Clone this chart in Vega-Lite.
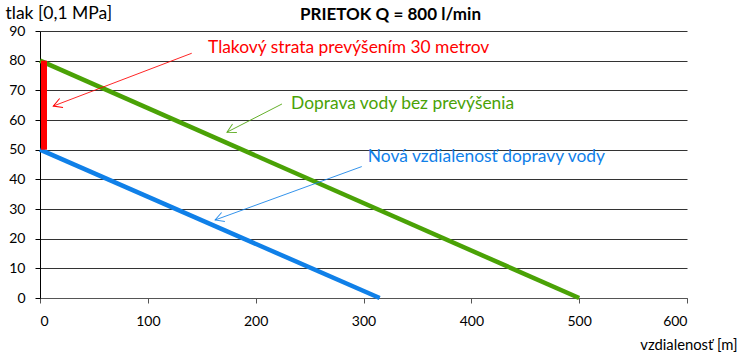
{
  "$schema": "https://vega.github.io/schema/vega-lite/v6.json",
  "width": 647,
  "height": 267,
  "autosize": {"type": "none"},
  "padding": {"left": 40, "top": 31, "right": 55, "bottom": 57},
  "background": "white",
  "config": {
    "view": {"stroke": null},
    "font": "Lato",
    "axis": {"labelFont": "Lato", "titleFont": "Lato", "labelColor": "#000", "titleColor": "#000"}
  },
  "title": {
    "text": "PRIETOK Q = 800 l/min",
    "font": "Lato",
    "fontSize": 17,
    "fontWeight": "bold",
    "color": "#000",
    "anchor": "middle",
    "dx": 27,
    "offset": 0,
    "dy": 20
  },
  "datasets": {
    "lines": [
      {"k": "g", "x": 0, "y": 80},
      {"k": "g", "x": 500, "y": 0},
      {"k": "b", "x": 0, "y": 50},
      {"k": "b", "x": 315, "y": 0}
    ],
    "drop": [{"k": "r", "x": 3.7, "y": 50, "y2": 80}],
    "arrows": [
      {"k": "r", "x": 140.7, "y": 82.5, "x2": 12.3, "y2": 64.7},
      {"k": "g", "x": 224.4, "y": 65.4, "x2": 173.4, "y2": 55.9},
      {"k": "b", "x": 298.4, "y": 44.3, "x2": 162.4, "y2": 26.3}
    ],
    "labels": [
      {"k": "r", "x": 155.8, "y": 84.3, "text": "Tlakový strata prevýšením 30 metrov"},
      {"k": "g", "x": 232.8, "y": 65.4, "text": "Doprava vody bez prevýšenia"},
      {"k": "b", "x": 304, "y": 47.5, "text": "Nová vzdialenosť dopravy vody"}
    ]
  },
  "layer": [
    {
      "data": {"name": "lines"},
      "mark": {"type": "line", "strokeWidth": 4.5, "strokeCap": "butt"},
      "encoding": {
        "x": {
          "field": "x", "type": "quantitative",
          "scale": {"domain": [0, 600], "nice": false},
          "axis": {
            "values": [0, 100, 200, 300, 400, 500, 600],
            "grid": false,
            "labelOverlap": false,
            "domainColor": "#555",
            "tickColor": "#555",
            "tickSize": 5,
            "labelFontSize": 14,
            "labelPadding": 11,
            "title": "vzdialenosť [m]",
            "titleFontSize": 14.8,
            "titleFontWeight": "normal",
            "titleAnchor": "end",
            "titleAlign": "right",
            "titleX": 697,
            "titleY": 47,
            "titleBaseline": "middle"
          }
        },
        "y": {
          "field": "y", "type": "quantitative",
          "scale": {"domain": [0, 90], "nice": false},
          "axis": {
            "values": [0, 10, 20, 30, 40, 50, 60, 70, 80, 90],
            "tickCount": 10,
            "grid": true,
            "labelOverlap": false,
            "gridColor": "#333",
            "gridOpacity": 1,
            "domainColor": "#000",
            "tickColor": "#000",
            "tickSize": 5,
            "labelFontSize": 14,
            "labelPadding": 10,
            "title": "tlak [0,1 MPa]",
            "titleFontSize": 17.5,
            "titleFontWeight": "normal",
            "titleAngle": 0,
            "titleAlign": "left",
            "titleBaseline": "middle",
            "titleX": -35,
            "titleY": -18
          }
        },
        "color": {
          "field": "k", "type": "nominal",
          "scale": {"domain": ["g", "b", "r"], "range": ["#4aa206", "#1080e8", "#ff0000"]},
          "legend": null
        },
        "detail": {"field": "k"}
      }
    },
    {
      "data": {"name": "drop"},
      "mark": {"type": "rule", "strokeWidth": 6, "strokeCap": "butt"},
      "encoding": {
        "x": {"field": "x", "type": "quantitative"},
        "y": {"field": "y", "type": "quantitative"},
        "y2": {"field": "y2"},
        "color": {"field": "k", "type": "nominal"}
      }
    },
    {
      "data": {"name": "arrows"},
      "mark": {"type": "rule", "strokeWidth": 1, "opacity": 0.85},
      "encoding": {
        "x": {"field": "x", "type": "quantitative"},
        "y": {"field": "y", "type": "quantitative"},
        "x2": {"field": "x2"},
        "y2": {"field": "y2"},
        "color": {"field": "k", "type": "nominal"}
      }
    },
    {
      "data": {"name": "arrows"},
      "transform": [{"filter": "datum.k === 'r'"}],
      "mark": {"type": "point", "shape": "M-1,-0.55L0,0L-1,0.55", "filled": false, "size": 300, "strokeWidth": 1, "angle": 159, "opacity": 1},
      "encoding": {
        "x": {"field": "x2", "type": "quantitative"},
        "y": {"field": "y2", "type": "quantitative"},
        "color": {"field": "k", "type": "nominal"}
      }
    },
    {
      "data": {"name": "arrows"},
      "transform": [{"filter": "datum.k === 'g'"}],
      "mark": {"type": "point", "shape": "M-1,-0.55L0,0L-1,0.55", "filled": false, "size": 300, "strokeWidth": 1, "angle": 153, "opacity": 0.85},
      "encoding": {
        "x": {"field": "x2", "type": "quantitative"},
        "y": {"field": "y2", "type": "quantitative"},
        "color": {"field": "k", "type": "nominal"}
      }
    },
    {
      "data": {"name": "arrows"},
      "transform": [{"filter": "datum.k === 'b'"}],
      "mark": {"type": "point", "shape": "M-1,-0.55L0,0L-1,0.55", "filled": false, "size": 300, "strokeWidth": 1, "angle": 160, "opacity": 0.85},
      "encoding": {
        "x": {"field": "x2", "type": "quantitative"},
        "y": {"field": "y2", "type": "quantitative"},
        "color": {"field": "k", "type": "nominal"}
      }
    },
    {
      "data": {"name": "labels"},
      "mark": {"type": "text", "align": "left", "baseline": "middle", "fontSize": 17.4, "font": "Lato"},
      "encoding": {
        "x": {"field": "x", "type": "quantitative"},
        "y": {"field": "y", "type": "quantitative"},
        "text": {"field": "text"},
        "color": {"field": "k", "type": "nominal"}
      }
    }
  ]
}
